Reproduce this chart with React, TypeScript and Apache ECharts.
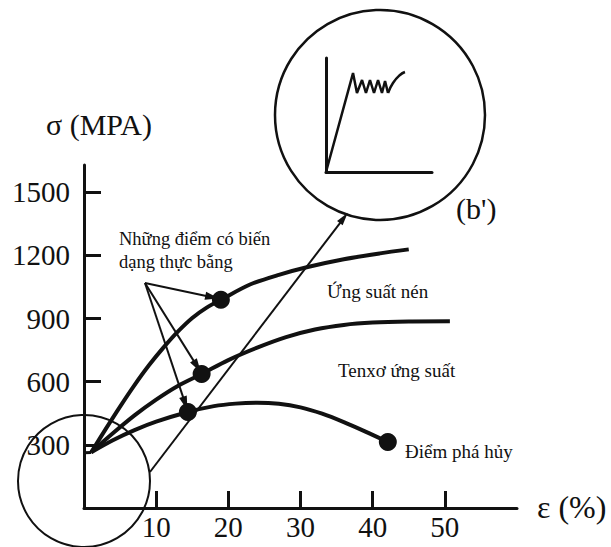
import React, { useEffect, useRef } from 'react';
import * as echarts from 'echarts';

// Axis ticks
const xTicks = [10, 20, 30, 40, 50];
const yTicks = [300, 600, 900, 1200, 1500];

// Curves (ε %, σ MPa)
const startStub = [[0, 262], [1, 264]];
const compressive = [[1, 265], [3, 375], [5, 482], [7, 584], [9, 678], [11, 762], [13, 838], [15, 903], [17, 952], [19, 990], [23, 1062], [27, 1108], [31, 1145], [36, 1182], [41, 1210], [45, 1229]];
const trueStress = [[1, 265], [4, 355], [7, 440], [10, 515], [13, 580], [16.3, 637], [20, 703], [24, 762], [28, 812], [32, 848], [36, 870], [40, 881], [45, 886], [50.7, 887]];
const engineering = [[1, 265], [4, 322], [7, 370], [10, 410], [14.4, 456], [18, 484], [21, 496], [24, 500], [27, 495], [30, 478], [33, 448], [36, 408], [39, 363], [42.1, 314]];
const equalStrainPoints = [[18.97, 990], [16.3, 637], [14.4, 456]];
const failurePoint = [[42.1, 314]];

// Annotation arrows
const labelArrowFrom = [8.45, 1069];
const labelArrowTo = [[17.76, 1002], [15.68, 673], [14.02, 497]];
const zoomArrow = [[9.14, 171], [36.0, 1378]];

// Inset (b') sketch, normalised
const insetYield = [[0, 0], [0.255, 0.868], [0.292, 0.693], [0.34, 0.807], [0.377, 0.693], [0.415, 0.807], [0.453, 0.693], [0.491, 0.807], [0.528, 0.693], [0.557, 0.798], [0.585, 0.693]];
const insetHardening = [[0.585, 0.693], [0.632, 0.781], [0.698, 0.851], [0.745, 0.877]];

const FONT = 'Liberation Serif, Times New Roman, serif';
const INK = '#111';

export default function App() {
  const ref = useRef<HTMLDivElement>(null);
  useEffect(() => {
    if (!ref.current) return;
    const chart = echarts.init(ref.current, undefined, { renderer: 'svg' });
    const curve = (data: number[][]) => ({
      type: 'line',
      data,
      smooth: 0.3,
      symbol: 'none',
      lineStyle: { color: INK, width: 4 },
      z: 3,
    });
    const arrowEnd = (c: number[]) => ({ coord: c, symbol: 'triangle', symbolSize: [8, 14] });
    const texts = [
      { t: 'σ (MPA)', x: 99, y: 124, s: 30, a: 'center' },
      { t: 'ε (%)', x: 537, y: 507, s: 32, a: 'left' },
      { t: "(b')", x: 456, y: 208, s: 30, a: 'left' },
      { t: 'Những điểm có biến', x: 119, y: 239, s: 18.5, a: 'left' },
      { t: 'dạng thực bằng', x: 119, y: 262, s: 18.5, a: 'left' },
      { t: 'Ứng suất nén', x: 327, y: 291, s: 19, a: 'left' },
      { t: 'Tenxơ ứng suất', x: 338, y: 370, s: 19, a: 'left' },
      { t: 'Điểm phá hủy', x: 405, y: 451, s: 19, a: 'left' },
    ];
    chart.setOption({
      animation: false,
      backgroundColor: '#fff',
      textStyle: { fontFamily: FONT },
      grid: [
        { left: 84, top: 165, width: 433, height: 343, containLabel: false },
        { left: 326, top: 58, width: 106, height: 114, containLabel: false },
      ],
      xAxis: [
        {
          type: 'value', min: 0, max: 60, gridIndex: 0,
          axisLine: { show: true, lineStyle: { color: INK, width: 3 } },
          axisTick: { show: true, inside: true, length: 17, lineStyle: { color: INK, width: 3 }, customValues: xTicks },
          axisLabel: { show: true, margin: 4, color: INK, fontFamily: FONT, fontSize: 29, customValues: xTicks, formatter: (v: number) => String(v) },
          splitLine: { show: false },
        },
        {
          type: 'value', min: 0, max: 1, gridIndex: 1,
          axisLine: { show: true, lineStyle: { color: INK, width: 3 } },
          axisTick: { show: false }, axisLabel: { show: false }, splitLine: { show: false },
        },
      ],
      yAxis: [
        {
          type: 'value', min: 0, max: 1630, gridIndex: 0,
          axisLine: { show: true, lineStyle: { color: INK, width: 3 } },
          axisTick: { show: true, inside: true, length: 17, lineStyle: { color: INK, width: 3 }, customValues: yTicks },
          axisLabel: { show: true, margin: 14, color: INK, fontFamily: FONT, fontSize: 29, customValues: yTicks, formatter: (v: number) => String(v) },
          splitLine: { show: false },
        },
        {
          type: 'value', min: 0, max: 1, gridIndex: 1,
          axisLine: { show: true, lineStyle: { color: INK, width: 3 } },
          axisTick: { show: false }, axisLabel: { show: false }, splitLine: { show: false },
        },
      ],
      series: [
        { type: 'line', data: startStub, symbol: 'none', lineStyle: { color: INK, width: 3 }, z: 3 },
        curve(compressive),
        curve(trueStress),
        curve(engineering),
        {
          type: 'scatter',
          data: [...equalStrainPoints, ...failurePoint],
          symbol: 'circle',
          symbolSize: 18,
          itemStyle: { color: INK, opacity: 1 },
          z: 5,
          markLine: {
            silent: true,
            animation: false,
            symbol: ['none', 'triangle'],
            label: { show: false },
            lineStyle: { color: INK, width: 2, type: 'solid', opacity: 1 },
            data: [
              ...labelArrowTo.map((c) => [{ coord: labelArrowFrom, symbol: 'none' }, arrowEnd(c)]),
              [{ coord: zoomArrow[0], symbol: 'none' }, { ...arrowEnd(zoomArrow[1]), symbolSize: [7, 13] }],
            ],
          },
        },
        {
          type: 'line', xAxisIndex: 1, yAxisIndex: 1, data: insetYield,
          symbol: 'none', lineStyle: { color: INK, width: 2.5 },
        },
        {
          type: 'line', xAxisIndex: 1, yAxisIndex: 1, data: insetHardening, smooth: 0.5,
          symbol: 'none', lineStyle: { color: INK, width: 2.5 },
        },
      ],
      graphic: [
        { type: 'circle', shape: { cx: 84, cy: 481, r: 66 }, style: { fill: 'none', stroke: INK, lineWidth: 2 }, z: 10 },
        { type: 'circle', shape: { cx: 380, cy: 115, r: 105 }, style: { fill: 'none', stroke: INK, lineWidth: 2.5 }, z: 10 },
        ...texts.map((o) => ({
          type: 'text', x: o.x, y: o.y, z: 10,
          style: { text: o.t, fontFamily: FONT, fontSize: o.s, fill: INK, align: o.a, verticalAlign: 'middle' },
        })),
      ],
    });
    return () => chart.dispose();
  }, []);
  return <div ref={ref} style={{ position: 'fixed', left: 0, top: 0, width: 611, height: 547, background: '#fff' }} />;
}
